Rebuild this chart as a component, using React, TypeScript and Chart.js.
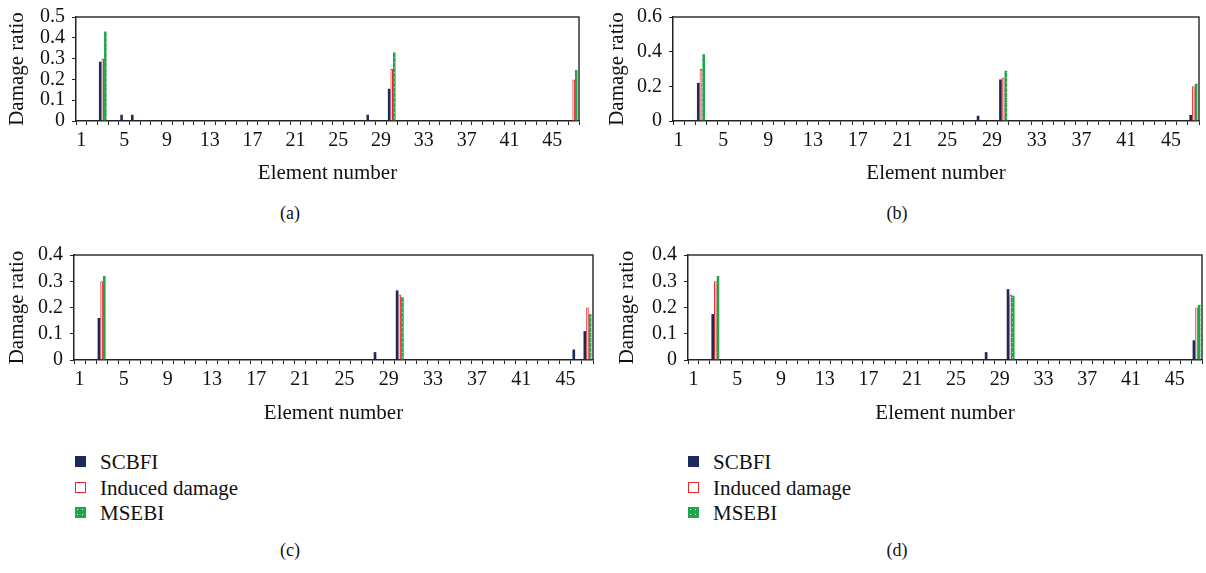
import React, { useEffect, useRef } from "react";
import { Chart, registerables } from "chart.js";

Chart.register(...registerables);

const FONT = '"Liberation Serif", "Times New Roman", serif';

const elements = [
  1, 2, 3, 4, 5, 6, 7, 8, 9, 10, 11, 12, 13, 14, 15, 16, 17, 18, 19, 20, 21, 22, 23, 24,
  25, 26, 27, 28, 29, 30, 31, 32, 33, 34, 35, 36, 37, 38, 39, 40, 41, 42, 43, 44, 45, 46, 47,
];
const shownTicks = [1, 5, 9, 13, 17, 21, 25, 29, 33, 37, 41, 45];
const seriesNames = ["SCBFI", "Induced damage", "MSEBI"];

// Panel (a)
const scbfiA = [
  0, 0, 0.285, 0, 0.03, 0.03, 0, 0, 0, 0,
  0, 0, 0, 0, 0, 0, 0, 0, 0, 0,
  0, 0, 0, 0, 0, 0, 0, 0.03, 0, 0.155,
  0, 0, 0, 0, 0, 0, 0, 0, 0, 0,
  0, 0, 0, 0, 0, 0, 0,
];
const inducedA = [
  0, 0, 0.3, 0, 0, 0, 0, 0, 0, 0,
  0, 0, 0, 0, 0, 0, 0, 0, 0, 0,
  0, 0, 0, 0, 0, 0, 0, 0, 0, 0.25,
  0, 0, 0, 0, 0, 0, 0, 0, 0, 0,
  0, 0, 0, 0, 0, 0, 0.2,
];
const msebiA = [
  0, 0, 0.43, 0, 0, 0, 0, 0, 0, 0,
  0, 0, 0, 0, 0, 0, 0, 0, 0, 0,
  0, 0, 0, 0, 0, 0, 0, 0, 0, 0.33,
  0, 0, 0, 0, 0, 0, 0, 0, 0, 0,
  0, 0, 0, 0, 0, 0, 0.245,
];

// Panel (b)
const scbfiB = [
  0, 0, 0.22, 0, 0, 0, 0, 0, 0, 0,
  0, 0, 0, 0, 0, 0, 0, 0, 0, 0,
  0, 0, 0, 0, 0, 0, 0, 0.03, 0, 0.24,
  0, 0, 0, 0, 0, 0, 0, 0, 0, 0,
  0, 0, 0, 0, 0, 0, 0.035,
];
const inducedB = [
  0, 0, 0.3, 0, 0, 0, 0, 0, 0, 0,
  0, 0, 0, 0, 0, 0, 0, 0, 0, 0,
  0, 0, 0, 0, 0, 0, 0, 0, 0, 0.25,
  0, 0, 0, 0, 0, 0, 0, 0, 0, 0,
  0, 0, 0, 0, 0, 0, 0.2,
];
const msebiB = [
  0, 0, 0.385, 0, 0, 0, 0, 0, 0, 0,
  0, 0, 0, 0, 0, 0, 0, 0, 0, 0,
  0, 0, 0, 0, 0, 0, 0, 0, 0, 0.29,
  0, 0, 0, 0, 0, 0, 0, 0, 0, 0,
  0, 0, 0, 0, 0, 0, 0.215,
];

// Panel (c)
const scbfiC = [
  0, 0, 0.16, 0, 0, 0, 0, 0, 0, 0,
  0, 0, 0, 0, 0, 0, 0, 0, 0, 0,
  0, 0, 0, 0, 0, 0, 0, 0.03, 0, 0.265,
  0, 0, 0, 0, 0, 0, 0, 0, 0, 0,
  0, 0, 0, 0, 0, 0.04, 0.11,
];
const inducedC = [
  0, 0, 0.3, 0, 0, 0, 0, 0, 0, 0,
  0, 0, 0, 0, 0, 0, 0, 0, 0, 0,
  0, 0, 0, 0, 0, 0, 0, 0, 0, 0.25,
  0, 0, 0, 0, 0, 0, 0, 0, 0, 0,
  0, 0, 0, 0, 0, 0, 0.2,
];
const msebiC = [
  0, 0, 0.32, 0, 0, 0, 0, 0, 0, 0,
  0, 0, 0, 0, 0, 0, 0, 0, 0, 0,
  0, 0, 0, 0, 0, 0, 0, 0, 0, 0.24,
  0, 0, 0, 0, 0, 0, 0, 0, 0, 0,
  0, 0, 0, 0, 0, 0, 0.175,
];

// Panel (d)
const scbfiD = [
  0, 0, 0.175, 0, 0, 0, 0, 0, 0, 0,
  0, 0, 0, 0, 0, 0, 0, 0, 0, 0,
  0, 0, 0, 0, 0, 0, 0, 0.03, 0, 0.27,
  0, 0, 0, 0, 0, 0, 0, 0, 0, 0,
  0, 0, 0, 0, 0, 0, 0.075,
];
const inducedD = [
  0, 0, 0.3, 0, 0, 0, 0, 0, 0, 0,
  0, 0, 0, 0, 0, 0, 0, 0, 0, 0,
  0, 0, 0, 0, 0, 0, 0, 0, 0, 0.25,
  0, 0, 0, 0, 0, 0, 0, 0, 0, 0,
  0, 0, 0, 0, 0, 0, 0.2,
];
const msebiD = [
  0, 0, 0.32, 0, 0, 0, 0, 0, 0, 0,
  0, 0, 0, 0, 0, 0, 0, 0, 0, 0,
  0, 0, 0, 0, 0, 0, 0, 0, 0, 0.245,
  0, 0, 0, 0, 0, 0, 0, 0, 0, 0,
  0, 0, 0, 0, 0, 0, 0.21,
];

const NAVY = "#1d2a5c";
const RED = "#e8262b";
const PINK = "#fbdada";
const GREEN = "#1fa64a";
const AXIS = "#222222";
const TEXT = "#111111";

function makeGreenPattern(): CanvasPattern | string {
  const c = document.createElement("canvas");
  c.width = 4;
  c.height = 5;
  const g = c.getContext("2d");
  if (!g) return GREEN;
  g.fillStyle = GREEN;
  g.fillRect(0, 0, 4, 5);
  g.fillStyle = "rgba(255,255,255,0.6)";
  g.fillRect(2, 2, 1, 1);
  const p = g.createPattern(c, "repeat");
  return p || GREEN;
}

const framePlugin = {
  id: "frame",
  afterDraw(chart: any) {
    const { ctx, chartArea } = chart;
    ctx.save();
    ctx.strokeStyle = "#333333";
    ctx.lineWidth = 1.5;
    ctx.beginPath();
    ctx.moveTo(chartArea.left, chartArea.top);
    ctx.lineTo(chartArea.right, chartArea.top);
    ctx.lineTo(chartArea.right, chartArea.bottom);
    ctx.stroke();
    ctx.restore();
  },
};

type PanelProps = {
  left: number;
  top: number;
  width: number;
  height: number;
  yWidth: number;
  xHeight: number;
  padTop: number;
  padRight: number;
  yMax: number;
  yStep: number;
  scbfi: number[];
  induced: number[];
  msebi: number[];
};

function Panel(p: PanelProps) {
  const ref = useRef<HTMLCanvasElement>(null);
  useEffect(() => {
    if (!ref.current) return;
    const chart = new Chart(ref.current, {
      type: "bar",
      data: {
        labels: elements.map(String),
        datasets: [
          {
            label: seriesNames[0],
            data: p.scbfi,
            backgroundColor: NAVY,
            borderWidth: 0,
          },
          {
            label: seriesNames[1],
            data: p.induced,
            backgroundColor: PINK,
            borderColor: RED,
            borderWidth: 1,
          },
          {
            label: seriesNames[2],
            data: p.msebi,
            backgroundColor: makeGreenPattern() as any,
            borderWidth: 0,
          },
        ],
      },
      options: {
        animation: false,
        responsive: false,
        maintainAspectRatio: false,
        datasets: { bar: { categoryPercentage: 0.72, barPercentage: 1.0 } },
        layout: { padding: { left: 0, right: p.padRight, top: p.padTop, bottom: 0 } },
        plugins: { legend: { display: false }, tooltip: { enabled: false } },
        scales: {
          x: {
            type: "category",
            offset: true,
            grid: {
              offset: true,
              drawOnChartArea: false,
              drawTicks: true,
              tickLength: 4,
              color: AXIS,
              lineWidth: 1,
            },
            border: { display: true, color: AXIS, width: 1.5 },
            ticks: {
              autoSkip: false,
              maxRotation: 0,
              minRotation: 0,
              padding: 4,
              color: TEXT,
              font: { family: FONT, size: 20, lineHeight: 1.2 },
              callback: (_v: any, i: number) =>
                shownTicks.includes(elements[i]) ? String(elements[i]) : "",
            },
            title: {
              display: true,
              text: "Element number",
              color: TEXT,
              font: { family: FONT, size: 21, lineHeight: 1.2 },
              padding: { top: 0, bottom: 14.4 },
            },
            afterFit: (s: any) => {
              s.height = p.xHeight;
            },
          },
          y: {
            min: 0,
            max: p.yMax,
            grid: {
              drawOnChartArea: false,
              drawTicks: true,
              tickLength: 4,
              color: AXIS,
              lineWidth: 1,
            },
            border: { display: true, color: AXIS, width: 1.5 },
            ticks: {
              stepSize: p.yStep,
              autoSkip: false,
              padding: 7,
              color: TEXT,
              font: { family: FONT, size: 20, lineHeight: 1.0 },
            },
            title: {
              display: true,
              text: "Damage ratio",
              color: TEXT,
              font: { family: FONT, size: 21, lineHeight: 1.2 },
              padding: { top: 5, bottom: 0 },
            },
            afterFit: (s: any) => {
              s.width = p.yWidth;
            },
          },
        },
      },
      plugins: [framePlugin],
    });
    return () => chart.destroy();
  }, []);
  return (
    <canvas
      ref={ref}
      width={p.width}
      height={p.height}
      style={{ position: "absolute", left: p.left, top: p.top, width: p.width, height: p.height }}
    />
  );
}

function Legend({ left, top }: { left: number; top: number }) {
  const markers: React.CSSProperties[] = [
    { background: NAVY },
    { background: "#fff", border: `1.5px solid ${RED}`, boxSizing: "border-box" },
    {
      backgroundColor: GREEN,
      backgroundImage: "radial-gradient(rgba(255,255,255,0.85) 0.8px, transparent 1px)",
      backgroundSize: "5px 5px",
    },
  ];
  return (
    <div style={{ position: "absolute", left, top }}>
      {seriesNames.map((n, i) => (
        <div
          key={n}
          style={{ position: "absolute", left: 0, top: i * 25.5, height: 24, whiteSpace: "nowrap" }}
        >
          <span
            style={{
              position: "absolute",
              left: 0,
              top: 6,
              width: 11,
              height: 11,
              ...markers[i],
            }}
          />
          <span
            style={{
              position: "absolute",
              left: 25,
              top: 0,
              fontFamily: FONT,
              fontSize: 21,
              lineHeight: "24px",
              color: TEXT,
            }}
          >
            {n}
          </span>
        </div>
      ))}
    </div>
  );
}

function Caption({ text, x, y }: { text: string; x: number; y: number }) {
  return (
    <div
      style={{
        position: "absolute",
        left: x - 30,
        top: y - 12,
        width: 60,
        textAlign: "center",
        fontFamily: FONT,
        fontSize: 18,
        lineHeight: "24px",
        color: TEXT,
      }}
    >
      {text}
    </div>
  );
}

export default function App() {
  return (
    <div
      style={{
        position: "absolute",
        left: 0,
        top: 0,
        width: 1206,
        height: 573,
        background: "#fff",
        overflow: "hidden",
      }}
    >
      <Panel
        left={0}
        top={0}
        width={600}
        height={200}
        yWidth={76}
        xHeight={79}
        padTop={13}
        padRight={21}
        yMax={0.5}
        yStep={0.1}
        scbfi={scbfiA}
        induced={inducedA}
        msebi={msebiA}
      />
      <Panel
        left={600}
        top={0}
        width={606}
        height={200}
        yWidth={73}
        xHeight={79}
        padTop={13}
        padRight={7}
        yMax={0.6}
        yStep={0.2}
        scbfi={scbfiB}
        induced={inducedB}
        msebi={msebiB}
      />
      <Panel
        left={0}
        top={235}
        width={600}
        height={205}
        yWidth={74}
        xHeight={80}
        padTop={20}
        padRight={7}
        yMax={0.4}
        yStep={0.1}
        scbfi={scbfiC}
        induced={inducedC}
        msebi={msebiC}
      />
      <Panel
        left={610}
        top={235}
        width={596}
        height={205}
        yWidth={78}
        xHeight={80}
        padTop={20}
        padRight={4}
        yMax={0.4}
        yStep={0.1}
        scbfi={scbfiD}
        induced={inducedD}
        msebi={msebiD}
      />
      <Legend left={75} top={450} />
      <Legend left={688} top={450} />
      <Caption text="(a)" x={290} y={213} />
      <Caption text="(b)" x={897} y={213} />
      <Caption text="(c)" x={290} y={550} />
      <Caption text="(d)" x={897} y={550} />
    </div>
  );
}
